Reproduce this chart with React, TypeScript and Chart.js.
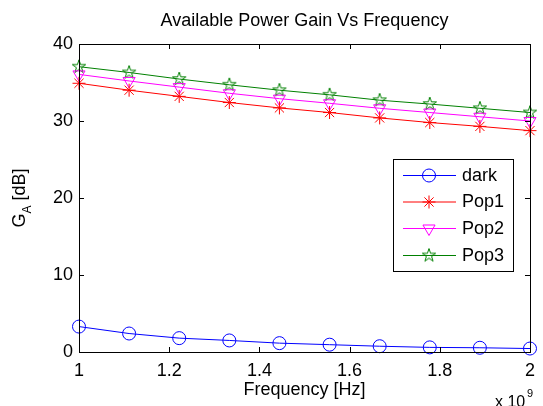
import React, { useEffect, useRef } from "react";
import { Chart, registerables } from "chart.js";

Chart.register(...registerables);

const freq = [1, 1.1111, 1.2222, 1.3333, 1.4444, 1.5556, 1.6667, 1.7778, 1.8889, 2];
const dark = [3.3, 2.4, 1.8, 1.5, 1.15, 0.95, 0.75, 0.6, 0.55, 0.45];
const pop1 = [34.9, 34.0, 33.2, 32.4, 31.7, 31.1, 30.4, 29.8, 29.3, 28.75];
const pop2 = [36.05, 35.2, 34.4, 33.6, 32.9, 32.3, 31.65, 31.1, 30.55, 30.0];
const pop3 = [37.05, 36.3, 35.45, 34.7, 34.0, 33.4, 32.7, 32.2, 31.65, 31.1];
const seriesNames = ["dark", "Pop1", "Pop2", "Pop3"];
const seriesColors = ["#0000ff", "#ff0000", "#ff00ff", "#008000"];
const xTicks = [1, 1.2, 1.4, 1.6, 1.8, 2];
const yTicks = [0, 10, 20, 30, 40];
const titleText = "Available Power Gain Vs Frequency";
const xTitle = "Frequency [Hz]";

const FONT = "'Liberation Sans', Arial, sans-serif";

function makePentagram(color: string, r: number): HTMLCanvasElement {
  const size = Math.ceil(r * 2 + 4);
  const c = document.createElement("canvas");
  c.width = size;
  c.height = size;
  const ctx = c.getContext("2d")!;
  const cx = size / 2;
  const cy = size / 2;
  const ri = r * 0.382;
  ctx.beginPath();
  for (let i = 0; i < 10; i++) {
    const rad = i % 2 === 0 ? r : ri;
    const a = -Math.PI / 2 + (i * Math.PI) / 5;
    const px = cx + rad * Math.cos(a);
    const py = cy + rad * Math.sin(a);
    if (i === 0) ctx.moveTo(px, py);
    else ctx.lineTo(px, py);
  }
  ctx.closePath();
  ctx.strokeStyle = color;
  ctx.lineWidth = 1;
  ctx.stroke();
  return c;
}

function drawMarker(ctx: CanvasRenderingContext2D, kind: number, x: number, y: number, color: string, pent: HTMLCanvasElement) {
  ctx.save();
  ctx.strokeStyle = color;
  ctx.lineWidth = 1;
  ctx.beginPath();
  if (kind === 0) {
    ctx.arc(x, y, 6.5, 0, Math.PI * 2);
    ctx.stroke();
  } else if (kind === 1) {
    const r = 6.5;
    for (let i = 0; i < 4; i++) {
      const a = (i * Math.PI) / 4;
      ctx.moveTo(x - r * Math.cos(a), y - r * Math.sin(a));
      ctx.lineTo(x + r * Math.cos(a), y + r * Math.sin(a));
    }
    ctx.stroke();
  } else if (kind === 2) {
    const r = 7;
    for (let i = 0; i < 3; i++) {
      const a = Math.PI + (i * 2 * Math.PI) / 3;
      const px = x + Math.sin(a) * r;
      const py = y - Math.cos(a) * r;
      if (i === 0) ctx.moveTo(px, py);
      else ctx.lineTo(px, py);
    }
    ctx.closePath();
    ctx.stroke();
  } else {
    ctx.drawImage(pent, x - pent.width / 2, y - pent.height / 2);
  }
  ctx.restore();
}

export default function App() {
  const ref = useRef<HTMLCanvasElement | null>(null);

  useEffect(() => {
    document.body.style.margin = "0";
    const canvas = ref.current!;
    const pent = makePentagram(seriesColors[3], 7);

    const decor = {
      id: "matlabDecor",
      afterDraw(chart: any) {
        const ctx = chart.ctx as CanvasRenderingContext2D;
        const a = chart.chartArea;
        const xs = chart.scales.x;
        const ys = chart.scales.y;
        ctx.save();
        // box
        ctx.strokeStyle = "#000";
        ctx.lineWidth = 1;
        ctx.strokeRect(Math.round(a.left) + 0.5, Math.round(a.top) + 0.5, Math.round(a.right - a.left), Math.round(a.bottom - a.top));
        // inward ticks
        const tl = 5;
        ctx.beginPath();
        xTicks.forEach((v) => {
          const px = Math.round(xs.getPixelForValue(v)) + 0.5;
          ctx.moveTo(px, a.bottom);
          ctx.lineTo(px, a.bottom - tl);
          ctx.moveTo(px, a.top);
          ctx.lineTo(px, a.top + tl);
        });
        yTicks.forEach((v) => {
          const py = Math.round(ys.getPixelForValue(v)) + 0.5;
          ctx.moveTo(a.left, py);
          ctx.lineTo(a.left + tl, py);
          ctx.moveTo(a.right, py);
          ctx.lineTo(a.right - tl, py);
        });
        ctx.stroke();

        // title
        ctx.fillStyle = "#000";
        ctx.font = `18px ${FONT}`;
        ctx.textAlign = "center";
        ctx.textBaseline = "alphabetic";
        const cx = (a.left + a.right) / 2;
        ctx.fillText(titleText, cx, 26);
        // x title
        ctx.fillText(xTitle, cx, 395);
        // x 10^9
        ctx.textAlign = "left";
        ctx.font = `16px ${FONT}`;
        ctx.fillText("x 10", 495, 407);
        ctx.font = `11px ${FONT}`;
        ctx.fillText("9", 527, 397);

        // y title G_A [dB]
        ctx.save();
        const cy = (a.top + a.bottom) / 2;
        ctx.translate(24.5, cy);
        ctx.rotate(-Math.PI / 2);
        ctx.textAlign = "left";
        ctx.font = `18px ${FONT}`;
        const wG = ctx.measureText("G").width;
        const wRest = ctx.measureText(" [dB]").width;
        ctx.font = `12px ${FONT}`;
        const wA = ctx.measureText("A").width;
        const total = wG + wA + wRest;
        let x0 = -total / 2;
        ctx.font = `18px ${FONT}`;
        ctx.fillText("G", x0, 0);
        x0 += wG;
        ctx.font = `12px ${FONT}`;
        ctx.fillText("A", x0, 6);
        x0 += wA;
        ctx.font = `18px ${FONT}`;
        ctx.fillText(" [dB]", x0, 0);
        ctx.restore();

        // legend
        const lx = 393.5, ly = 159.5, lw = 120, lh = 112;
        ctx.fillStyle = "#fff";
        ctx.fillRect(lx, ly, lw, lh);
        ctx.strokeStyle = "#000";
        ctx.strokeRect(lx, ly, lw, lh);
        const rows = [175, 201.5, 228, 255];
        seriesNames.forEach((name, i) => {
          const y = rows[i];
          ctx.strokeStyle = seriesColors[i];
          ctx.lineWidth = 1;
          ctx.beginPath();
          ctx.moveTo(403, y + 0.5);
          ctx.lineTo(456, y + 0.5);
          ctx.stroke();
          drawMarker(ctx, i, 429, y + 0.5, seriesColors[i], pent);
          ctx.fillStyle = "#000";
          ctx.font = `18px ${FONT}`;
          ctx.textAlign = "left";
          ctx.textBaseline = "middle";
          ctx.fillText(name, 462, y + 1);
        });
        ctx.restore();
      },
    };

    const mk = (vals: number[]) => freq.map((f, i) => ({ x: f, y: vals[i] }));

    const chart = new Chart(canvas, {
      type: "line",
      data: {
        datasets: [
          {
            label: seriesNames[0],
            data: mk(dark),
            borderColor: seriesColors[0],
            borderWidth: 1,
            pointStyle: "circle",
            pointRadius: 6.5,
            pointBorderColor: seriesColors[0],
            pointBackgroundColor: "rgba(0,0,0,0)",
            pointBorderWidth: 1,
            clip: false as any,
          },
          {
            label: seriesNames[1],
            data: mk(pop1),
            borderColor: seriesColors[1],
            borderWidth: 1,
            pointStyle: "star",
            pointRadius: 6.5,
            pointBorderColor: seriesColors[1],
            pointBackgroundColor: "rgba(0,0,0,0)",
            pointBorderWidth: 1,
            clip: false as any,
          },
          {
            label: seriesNames[2],
            data: mk(pop2),
            borderColor: seriesColors[2],
            borderWidth: 1,
            pointStyle: "triangle",
            pointRotation: 180,
            pointRadius: 7,
            pointBorderColor: seriesColors[2],
            pointBackgroundColor: "rgba(0,0,0,0)",
            pointBorderWidth: 1,
            clip: false as any,
          },
          {
            label: seriesNames[3],
            data: mk(pop3),
            borderColor: seriesColors[3],
            borderWidth: 1,
            pointStyle: pent as any,
            pointRadius: 7,
            pointBorderColor: seriesColors[3],
            pointBackgroundColor: "rgba(0,0,0,0)",
            pointBorderWidth: 1,
            clip: false as any,
          },
        ],
      },
      options: {
        animation: false,
        responsive: false,
        events: [],
        layout: { padding: { left: 0, top: 44, right: 7, bottom: 0 } },
        plugins: {
          legend: { display: false },
          title: { display: false },
          tooltip: { enabled: false },
        },
        scales: {
          x: {
            type: "linear",
            min: 1,
            max: 2,
            grid: { display: false, drawTicks: false },
            border: { display: false },
            ticks: {
              stepSize: 0.2,
              padding: 8,
              color: "#000",
              font: { family: FONT, size: 18 },
              maxRotation: 0,
              callback: (v: any) => String(Number(Number(v).toFixed(1))),
            },
            afterFit: (s: any) => {
              s.height = 54;
            },
          },
          y: {
            type: "linear",
            min: 0,
            max: 40,
            grid: { display: false, drawTicks: false },
            border: { display: false },
            ticks: {
              stepSize: 10,
              padding: 6,
              color: "#000",
              font: { family: FONT, size: 18 },
            },
            afterFit: (s: any) => {
              s.width = 79;
            },
          },
        },
      },
      plugins: [decor],
    });
    return () => chart.destroy();
  }, []);

  return (
    <div style={{ position: "fixed", left: 0, top: 0, width: 543, height: 406, background: "#fff" }}>
      <canvas ref={ref} width={543} height={406} style={{ display: "block" }} />
    </div>
  );
}
